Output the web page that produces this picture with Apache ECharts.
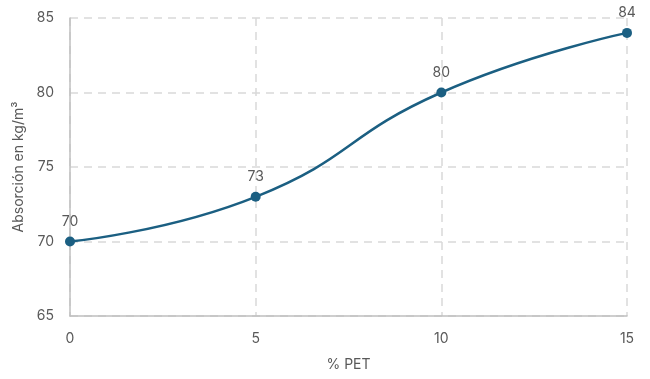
<!DOCTYPE html>
<html>
<head>
<meta charset="utf-8">
<script src="https://cdn.jsdelivr.net/npm/echarts@6/dist/echarts.min.js"></script>
<style>
  html, body { margin: 0; padding: 0; background: #fff; }
  #chart { width: 650px; height: 379px; }
</style>
</head>
<body>
<div id="chart"></div>
<script>
// % PET content and measured absorption (kg/m³)
const petPercent = [0, 5, 10, 15];
const absorption = [70, 73, 80, 84];
const yTicks = { min: 65, max: 85, step: 5 };
const xTicks = { min: 0, max: 15, step: 5 };

const textColor = '#595959';
const fontFamily = 'Inter, "Open Sans", "Noto Sans", sans-serif';
const lineColor = '#1b5f82';

const chart = echarts.init(document.getElementById('chart'), null, { renderer: 'canvas' });

chart.setOption({
  animation: false,
  backgroundColor: '#ffffff',
  grid: { left: 70, right: 23, top: 18, bottom: 63, containLabel: false },
  xAxis: {
    type: 'value',
    min: xTicks.min,
    max: xTicks.max,
    interval: xTicks.step,
    name: '% PET',
    nameLocation: 'middle',
    nameGap: 42,
    nameTextStyle: { color: textColor, fontSize: 14, fontFamily },
    axisLine: { show: true, lineStyle: { color: '#bfbfbf', width: 1.5 } },
    axisTick: { show: false },
    axisLabel: { color: textColor, fontSize: 14, fontFamily, margin: 16 },
    splitLine: { show: true, lineStyle: { color: '#d9d9d9', type: [8, 6], width: 1.5 } }
  },
  yAxis: {
    type: 'value',
    min: yTicks.min,
    max: yTicks.max,
    interval: yTicks.step,
    name: 'Absorción en kg/m³',
    nameLocation: 'middle',
    nameGap: 43,
    nameRotate: 90,
    nameTextStyle: { color: textColor, fontSize: 14, fontFamily },
    axisLine: { show: true, lineStyle: { color: '#bfbfbf', width: 1.5 } },
    axisTick: { show: false },
    axisLabel: { color: textColor, fontSize: 14, fontFamily, margin: 16 },
    splitLine: { show: true, lineStyle: { color: '#d9d9d9', type: [8, 6], width: 1.5 } }
  },
  series: [{
    type: 'line',
    data: petPercent.map((x, i) => [x, absorption[i]]),
    smooth: 0.5,
    symbol: 'circle',
    symbolSize: 10,
    clip: false,
    lineStyle: { color: lineColor, width: 2.5 },
    itemStyle: { color: lineColor },
    label: {
      show: true,
      position: 'top',
      distance: 8,
      color: textColor,
      fontSize: 14,
      fontFamily,
      formatter: p => p.value[1]
    }
  }]
});
</script>
</body>
</html>
